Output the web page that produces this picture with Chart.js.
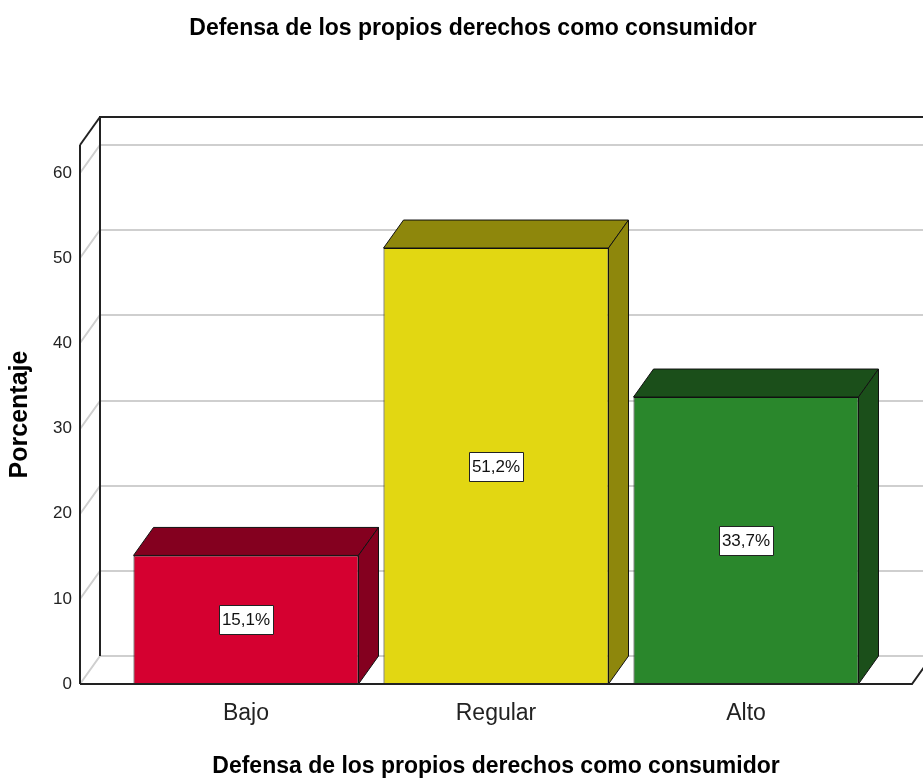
<!DOCTYPE html>
<html><head><meta charset="utf-8">
<script src="https://cdn.jsdelivr.net/npm/chart.js@4.4.1/dist/chart.umd.min.js"></script>
<style>
html,body{margin:0;padding:0;background:#fff;overflow:hidden;width:923px;height:780px}
#wrap{position:absolute;left:0;top:0;width:946px;height:780px}
</style>
</head><body>
<div id="wrap"><canvas id="c" width="946" height="780"></canvas></div>
<script>
const chartTitle = 'Defensa de los propios derechos como consumidor';
const axisTitleX = 'Defensa de los propios derechos como consumidor';
const axisTitleY = 'Porcentaje';
const categories = ['Bajo', 'Regular', 'Alto'];
const percentages = [15.1, 51.2, 33.7];
const yTicks = [0, 10, 20, 30, 40, 50, 60];
const frontColors = ['#d50030', '#e2d712', '#2a872c'];
const shadeColors = ['#84001f', '#8e870c', '#1b4f1a'];

const FONT = "'Liberation Sans', Arial, sans-serif";
const DEPTH_X = 20, DEPTH_Y = -28;

const frame3d = {
  id: 'frame3d',
  beforeDatasetsDraw(chart) {
    const { ctx, chartArea: a, scales } = chart;
    const ys = scales.y;
    ctx.save();
    ctx.strokeStyle = '#cfcfcf';
    ctx.lineWidth = 2;
    yTicks.forEach(v => {
      const y = Math.round(ys.getPixelForValue(v));
      ctx.beginPath();
      ctx.moveTo(a.left, y);
      ctx.lineTo(a.left + DEPTH_X, y + DEPTH_Y);
      ctx.lineTo(a.right + DEPTH_X + 40, y + DEPTH_Y);
      ctx.stroke();
    });
    ctx.strokeStyle = '#222';
    ctx.lineWidth = 2;
    ctx.beginPath();
    ctx.moveTo(a.left + DEPTH_X, a.bottom + DEPTH_Y);
    ctx.lineTo(a.left + DEPTH_X, a.top + DEPTH_Y);
    ctx.lineTo(a.right + DEPTH_X + 40, a.top + DEPTH_Y);
    ctx.stroke();
    ctx.beginPath();
    ctx.moveTo(a.left, a.top);
    ctx.lineTo(a.left + DEPTH_X, a.top + DEPTH_Y);
    ctx.stroke();
    ctx.beginPath();
    ctx.moveTo(a.left, a.bottom);
    ctx.lineTo(a.left, a.top);
    ctx.stroke();
    ctx.beginPath();
    ctx.moveTo(a.left, a.bottom);
    ctx.lineTo(a.right, a.bottom);
    ctx.lineTo(a.right + DEPTH_X, a.bottom + DEPTH_Y);
    ctx.stroke();
    ctx.restore();
  },
  afterDatasetsDraw(chart) {
    const { ctx } = chart;
    const meta = chart.getDatasetMeta(0);
    ctx.save();
    ctx.lineWidth = 1;
    ctx.strokeStyle = '#111';
    ctx.lineJoin = 'round';
    meta.data.forEach((bar, i) => {
      const p = bar.getProps(['x', 'y', 'base', 'width'], true);
      const l = p.x - p.width / 2, r = p.x + p.width / 2;
      const t = p.y, b = p.base;
      ctx.fillStyle = shadeColors[i];
      ctx.strokeStyle = '#111';
      ctx.beginPath();
      ctx.moveTo(l, t);
      ctx.lineTo(l + DEPTH_X, t + DEPTH_Y);
      ctx.lineTo(r + DEPTH_X, t + DEPTH_Y);
      ctx.lineTo(r, t);
      ctx.closePath();
      ctx.fill(); ctx.stroke();
      ctx.beginPath();
      ctx.moveTo(r, t);
      ctx.lineTo(r + DEPTH_X, t + DEPTH_Y);
      ctx.lineTo(r + DEPTH_X, b + DEPTH_Y);
      ctx.lineTo(r, b);
      ctx.closePath();
      ctx.fill(); ctx.stroke();
      const txt = percentages[i].toFixed(1).replace('.', ',') + '%';
      ctx.font = '17px ' + FONT;
      const tw = ctx.measureText(txt).width;
      const cy = (t + b) / 2;
      const bw = Math.round(tw + 6), bh = 29;
      const bx = Math.round(p.x - bw / 2) + 0.5, by = Math.round(cy - bh / 2) + 0.5;
      ctx.fillStyle = '#fff';
      ctx.fillRect(bx, by, bw, bh);
      ctx.strokeStyle = '#222';
      ctx.strokeRect(bx, by, bw, bh);
      ctx.fillStyle = '#111';
      ctx.textAlign = 'center';
      ctx.textBaseline = 'middle';
      ctx.fillText(txt, p.x, cy + 1);
    });
    const a = chart.chartArea;
    ctx.strokeStyle = '#222';
    ctx.lineWidth = 2;
    ctx.beginPath();
    ctx.moveTo(a.left, a.bottom);
    ctx.lineTo(a.right, a.bottom);
    ctx.stroke();
    ctx.restore();
  }
};

new Chart(document.getElementById('c'), {
  type: 'bar',
  data: {
    datasets: [{
      data: categories.map((c, i) => ({ x: i, y: percentages[i] })),
      backgroundColor: frontColors,
      borderColor: '#111',
      borderWidth: 1,
      categoryPercentage: 1,
      barPercentage: 0.9,
      yAxisID: 'y'
    }]
  },
  options: {
    responsive: false,
    animation: false,
    layout: { padding: 0 },
    plugins: {
      legend: { display: false },
      tooltip: { enabled: false },
      title: {
        display: true,
        text: chartTitle,
        color: '#000',
        font: { family: FONT, size: 23, weight: 'bold', lineHeight: 1.2 },
        padding: { top: 15, bottom: 102.4 }
      }
    },
    scales: {
      x: {
        type: 'linear',
        offset: false,
        min: -0.664,
        max: 2.664,
        grid: { display: false },
        border: { display: false },
        afterBuildTicks: s => { s.ticks = categories.map((c, i) => ({ value: i })); },
        afterFit: s => { s.height = 96; },
        ticks: {
          autoSkip: false,
          maxRotation: 0,
          color: '#222',
          font: { family: FONT, size: 23 },
          padding: 8,
          callback: v => categories[v]
        },
        title: {
          display: true,
          text: axisTitleX,
          color: '#000',
          font: { family: FONT, size: 23, weight: 'bold', lineHeight: 1.2 },
          padding: { top: 0, bottom: 0 }
        }
      },
      y: {
        min: 0,
        max: 63.3,
        grid: { display: false },
        border: { display: false },
        afterBuildTicks: s => { s.ticks = yTicks.map(v => ({ value: v })); },
        afterFit: s => { s.width = 80; },
        ticks: {
          color: '#222',
          font: { family: FONT, size: 17 },
          padding: 0
        },
        title: {
          display: true,
          text: axisTitleY,
          color: '#000',
          font: { family: FONT, size: 25, weight: 'bold', lineHeight: 1.2 },
          padding: { top: 5, bottom: 0 }
        }
      },
      yRight: {
        type: 'linear',
        position: 'right',
        display: true,
        grid: { display: false },
        border: { display: false },
        ticks: { display: false },
        afterFit: s => { s.width = 34; }
      }
    }
  },
  plugins: [frame3d]
});
</script>
</body></html>
